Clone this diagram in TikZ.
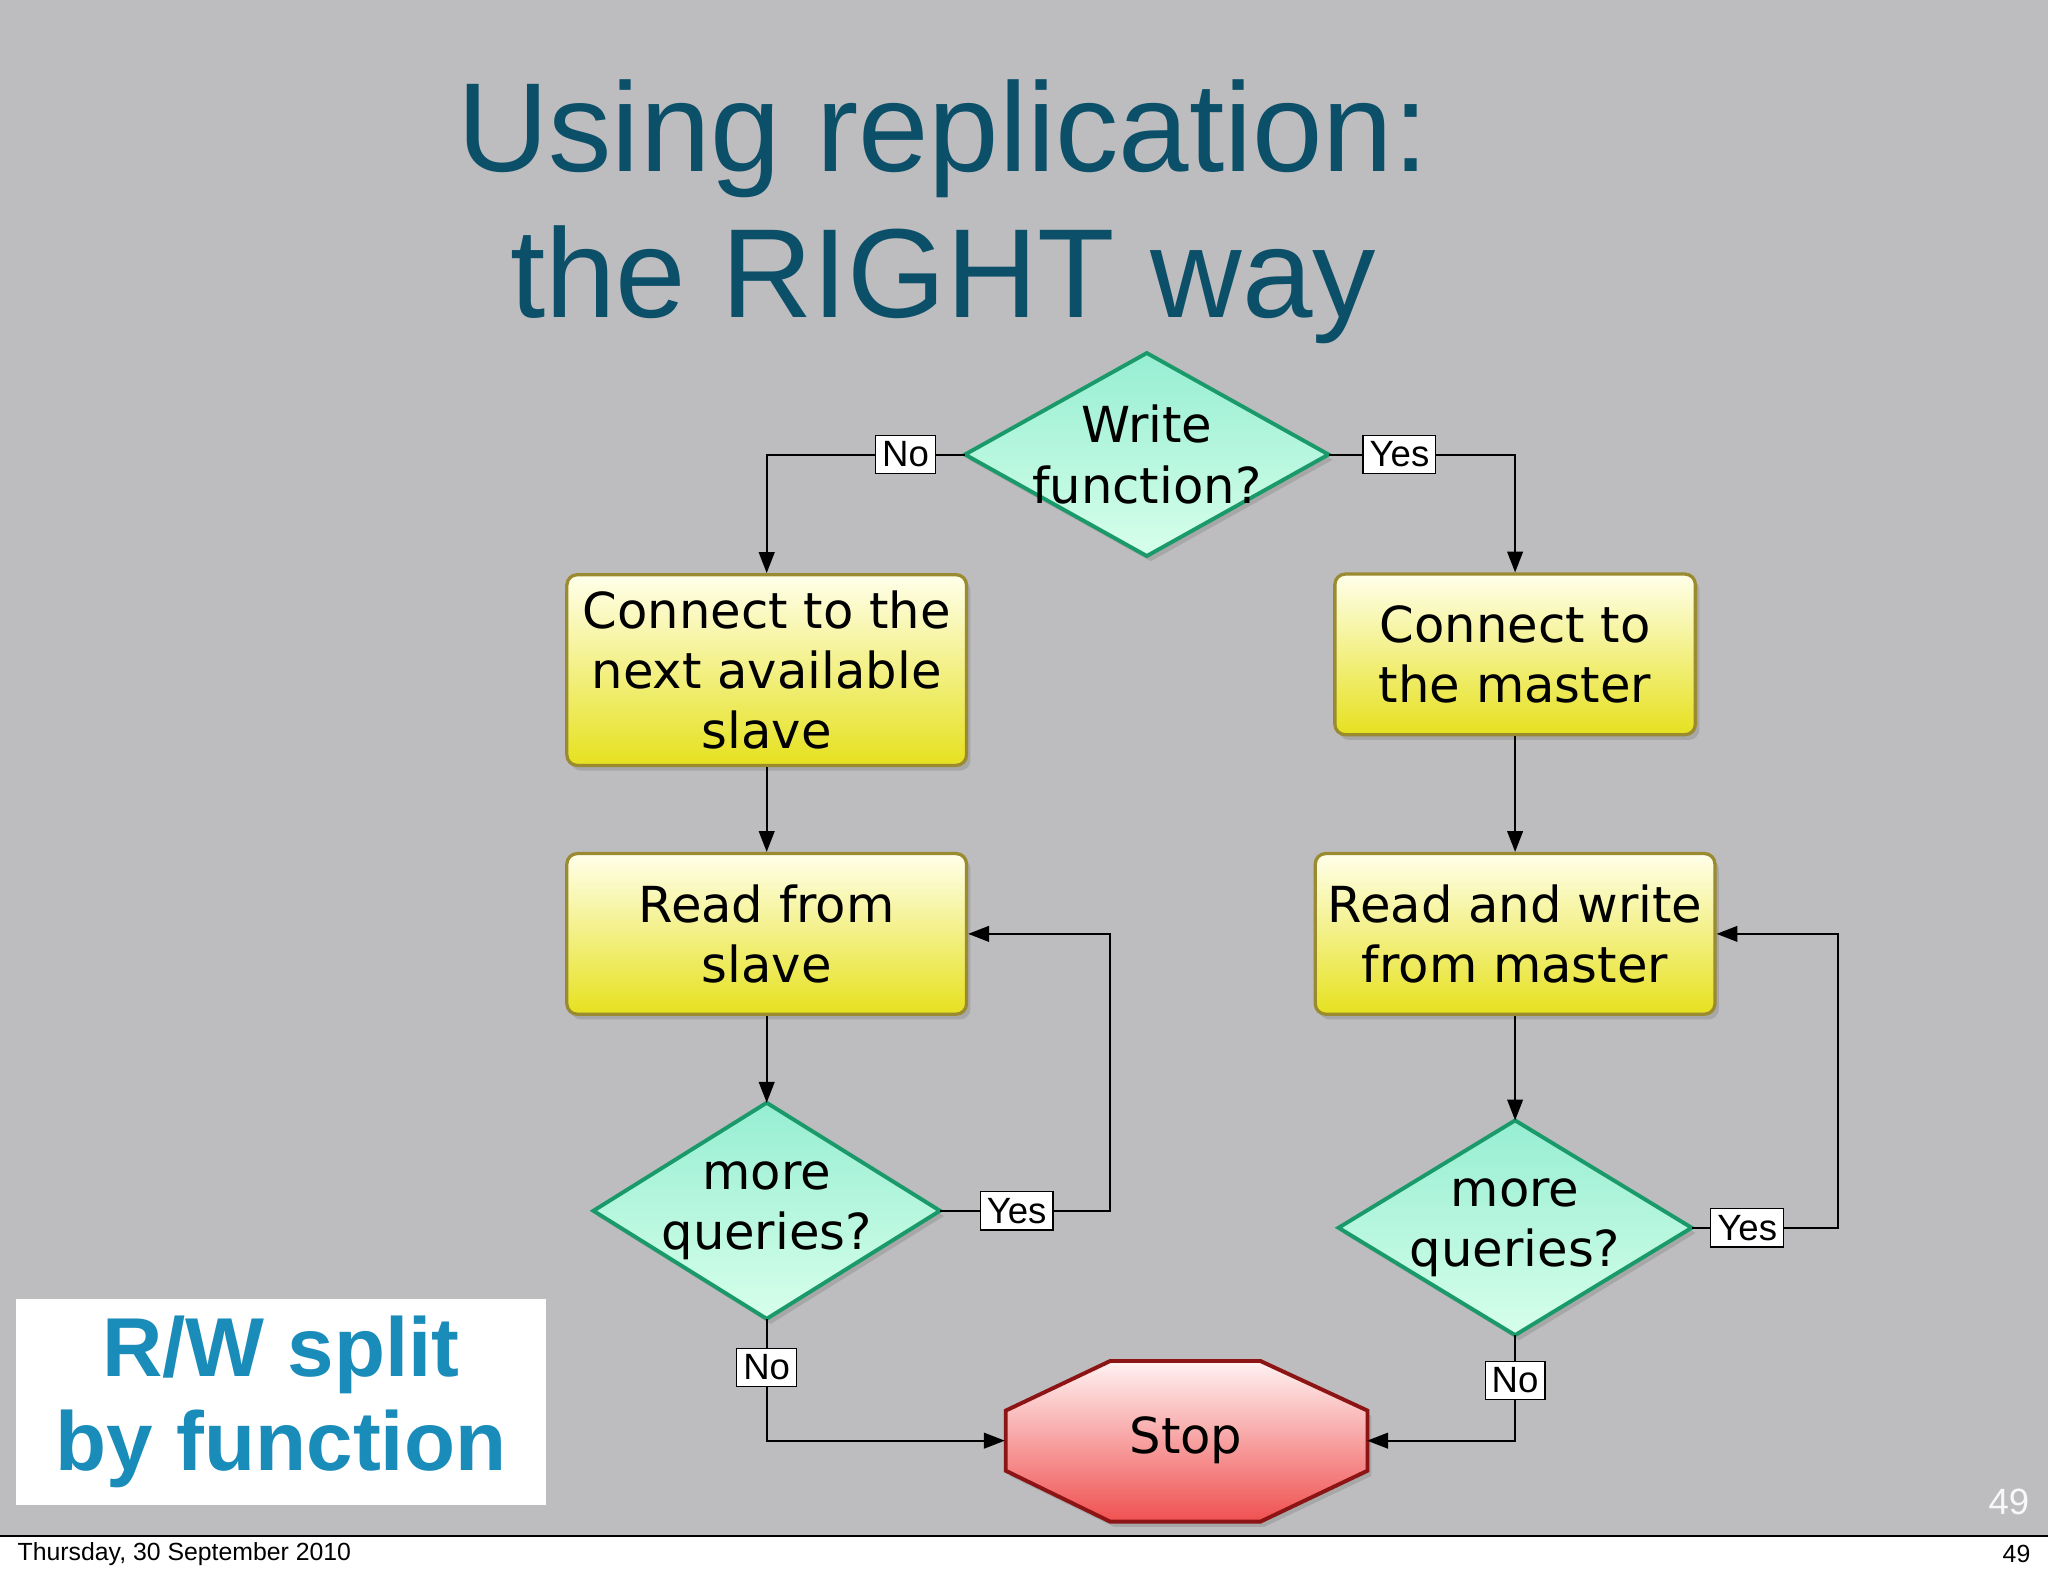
\documentclass[tikz,border=0pt]{standalone}
\usepackage{fontspec}
\setmainfont{DejaVu Sans}
\newfontfamily\hel{Liberation Sans}
\usetikzlibrary{shapes.geometric,shadows,arrows.meta}
\definecolor{bg}{HTML}{BDBCBE}
\definecolor{ttl}{HTML}{0B4F68}
\definecolor{blu}{HTML}{1A8CBA}
\definecolor{dgreen}{HTML}{1A9A6A}
\definecolor{ygold}{HTML}{9A8A30}
\begin{document}
\begin{tikzpicture}[x=1pt,y=-1pt,
 box/.style={draw=ygold,line width=2.5pt,rounded corners=8pt,top color=yellow!8!white,bottom color={rgb,255:red,230;green,225;blue,30},
   drop shadow={shadow xshift=3pt,shadow yshift=-4pt,opacity=.35},font=\fontsize{38}{46}\selectfont,align=center,inner sep=0pt},
 dfill/.style={draw=dgreen,line width=3pt,top color={rgb,255:red,150;green,238;blue,210},bottom color={rgb,255:red,215;green,255;blue,235},
   drop shadow={shadow xshift=3pt,shadow yshift=-4pt,opacity=.35}},
 dtxt/.style={font=\fontsize{38}{46}\selectfont,align=center},
 lab/.style={draw=black,fill=white,line width=1pt,font=\hel\fontsize{28}{30}\selectfont,inner sep=5pt},
 con/.style={line width=1.5pt,-{Triangle[length=16pt,width=12pt]}},
 ln/.style={line width=1.5pt}]
\useasboundingbox (0,0) rectangle (1568,1207);
\fill[bg] (0,0) rectangle (1568,1176);
\draw[line width=1pt] (0,1176) -- (1568,1176);
\node[font=\hel\fontsize{19}{22}\selectfont,anchor=west] (foot) at (10,1190) {Thursday, 30 September 2010};
\node[font=\hel\fontsize{19}{22}\selectfont,anchor=east] (pg) at (1558,1190) {49};
\node[font=\hel\fontsize{28}{30}\selectfont,text=white!90!bg] (pg2) at (1538,1150) {49};
\node[font=\hel\fontsize{97}{97}\selectfont,text=ttl] (t1) at (722,106) {Using replication:};
\node[font=\hel\fontsize{97}{97}\selectfont,text=ttl] (t2) at (722,218) {the RIGHT way};
\node[fill=white,minimum width=406,minimum height=158,anchor=north west] (rw) at (12,994) {};
\node[font=\hel\bfseries\fontsize{64}{72}\selectfont,text=blu,align=center] (rwt) at (rw) {R/W split\\by function};

\node[minimum width=278,minimum height=155] (w) at (878,348) {};
\path[dfill] (w.north) -- (w.east) -- (w.south) -- (w.west) -- cycle;
\node[dtxt] (wt) at (w) {Write\\function?};
\node[box,minimum width=306,minimum height=146] (cs) at (587,513) {Connect to the\\next available\\slave};
\node[box,minimum width=276,minimum height=123] (cm) at (1160,501) {Connect to\\the master};
\node[box,minimum width=306,minimum height=123] (rs) at (587,715) {Read from\\slave};
\node[box,minimum width=306,minimum height=123] (rm) at (1160,715) {Read and write\\from master};
\node[minimum width=265,minimum height=165] (q1) at (587,927) {};
\path[dfill] (q1.north) -- (q1.east) -- (q1.south) -- (q1.west) -- cycle;
\node[dtxt] (q1t) at (q1) {more\\queries?};
\node[minimum width=270,minimum height=164] (q2) at (1160,940) {};
\path[dfill] (q2.north) -- (q2.east) -- (q2.south) -- (q2.west) -- cycle;
\node[dtxt] (q2t) at (q2) {more\\queries?};
\path[draw={rgb,255:red,140;green,20;blue,20},line width=3pt,top color=red!5!white,bottom color={rgb,255:red,240;green,80;blue,80},
  drop shadow={shadow xshift=3pt,shadow yshift=-4pt,opacity=.35}]
  (850,1042) -- (965,1042) -- (1047,1080) -- (1047,1126) -- (965,1165) -- (850,1165) -- (770,1126) -- (770,1080) -- cycle;
\node[minimum width=277,minimum height=123,font=\fontsize{38}{46}\selectfont] (stop) at (908,1103) {Stop};

\coordinate (a1) at (587,348); \coordinate (a2) at (1160,348);
\coordinate (b1) at (850,927); \coordinate (b2) at (850,715);
\coordinate (c1) at (1407,940); \coordinate (c2) at (1407,715);
\coordinate (d1) at (587,1103); \coordinate (d2) at (1160,1103);
\draw[con] (w.west) -- node[lab,pos=.3]{No} (a1) -- (cs.north);
\draw[con] (w.east) -- node[lab,pos=.38]{Yes} (a2) -- (cm.north);
\draw[con] (cs.south) -- (rs.north);
\draw[con] (cm.south) -- (rm.north);
\draw[con] (rs.south) -- (q1.north);
\draw[con] (rm.south) -- (q2.north);
\draw[con] (q1.east) -- node[lab,pos=.45]{Yes} (b1) -- (b2) -- (rs.east);
\draw[con] (q2.east) -- node[lab,pos=.38]{Yes} (c1) -- (c2) -- (rm.east);
\draw[con] (q1.south) -- node[lab,pos=.4]{No} (d1) -- (stop.west);
\draw[con] (q2.south) -- node[lab,pos=.43]{No} (d2) -- (stop.east);
\end{tikzpicture}
\end{document}
